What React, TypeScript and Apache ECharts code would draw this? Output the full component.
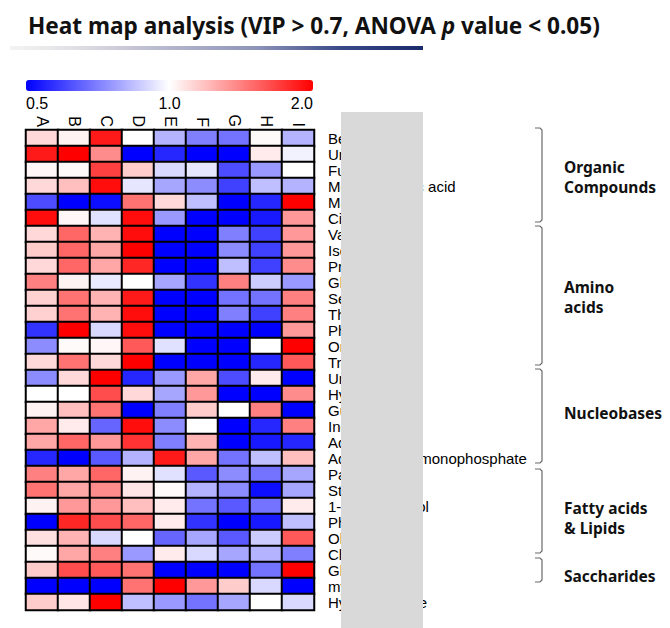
import React, { useEffect, useRef } from 'react';
import * as echarts from 'echarts';

// ---- data -----------------------------------------------------------------
const titleText = 'Heat map analysis (VIP > 0.7, ANOVA ';
const titleItalic = 'p';
const titleTail = ' value < 0.05)';

const columns = ['A', 'B', 'C', 'D', 'E', 'F', 'G', 'H', 'I'];

const metabolites = [
  'Benzoic acid', 'Urea', 'Fumaric acid', 'Methylmalonic acid', 'Malic acid', 'Citric acid',
  'Valine', 'Isoleucine', 'Proline', 'Glycine', 'Serine', 'Threonine', 'Phenylalanine', 'Ornithine', 'Tryptophan',
  'Uracil', 'Hypoxanthine', 'Guanine', 'Inosine', 'Adenosine', "Adenosine 5'-monophosphate",
  'Palmitic acid', 'Stearic acid', '1-Hexadecanol', 'Phosphate', 'Oleic acid', 'Cholesterol',
  'Glucose', 'myo-Inositol',
  'Hydroxylamine',
];

// log2 fold change (colour scale 0.5 .. 2.0), columns A..I
const organicValues = [
  [0.15, 0.05, 0.9, 0, -0.3, -0.5, -0.55, 0.02, -0.3],
  [0.9, 1.0, 0.45, -1, -0.85, -1, -1, 0.08, -0.05],
  [0.03, 0.02, 0.75, 0.2, -0.15, -0.1, -0.7, -0.4, 0],
  [0.15, 0.25, 0.95, -0.1, -0.35, -0.45, -0.75, -0.25, -0.3],
  [-0.7, -1, -0.95, 0.55, 0.15, -0.25, -1, -0.85, 1.0],
  [0.95, 0.03, -0.12, 0.95, -0.4, -1, -1, -0.9, 0.4],
];
const aminoValues = [
  [0.15, 0.6, 0.3, 0.95, -1, -1, -0.5, -0.75, 0.4],
  [0.2, 0.6, 0.35, 1.0, -1, -1, -0.45, -0.75, 0.4],
  [0.15, 0.6, 0.35, 0.85, -1, -1, -0.25, -0.75, 0.45],
  [0.5, 0.05, -0.08, 0, -0.35, -0.8, 0.5, -0.2, -0.4],
  [0.18, 0.55, 0.3, 0.9, -1, -1, -0.55, -0.55, 0.5],
  [0.18, 0.55, 0.3, 0.95, -1, -1, -0.5, -0.75, 0.5],
  [-0.8, 1.0, -0.15, 0.95, -1, -1, -1, -1, 0.4],
  [-0.45, 0.02, 0.03, 0.65, -0.12, -1, -1, 0, 1.0],
  [0.15, 0.55, 0.15, 1.0, -1, -1, -1, -0.85, 0.65],
];
const nucleoValues = [
  [-0.45, 0.15, 1.0, -0.85, -0.4, 0.35, -0.7, 0.08, -1],
  [0, 0, 0.7, 0.15, -0.35, 0.4, -1, -1, 0.45],
  [0.05, 0.25, 0.55, -1, -0.5, 0.2, 0, 0.5, -1],
  [0.35, 0.08, -0.6, 0.95, -0.45, 0, -1, -0.85, 0.5],
  [0.35, 0.6, 0.4, 0.8, -0.5, 0.3, -1, -0.9, -0.85],
  [-0.85, -1, -0.65, -0.3, 0.9, 0.35, -0.55, -0.25, 0.25],
];
const lipidValues = [
  [0.5, 0.35, 0.6, 0.05, -0.12, -0.65, -0.45, -0.55, -0.35],
  [0.55, 0.35, 0.45, 0.1, 0.02, -0.3, -0.45, -0.95, -0.35],
  [0.05, 0.4, 0.4, 0.25, 0.08, -0.55, -0.65, -0.55, 0.08],
  [-1, 0.85, 0.7, 0.6, 0.08, -0.8, -1, -0.9, -0.25],
  [0.12, 0.3, -0.15, 0, -0.6, -0.35, -0.65, -0.2, 0.65],
  [0.02, 0.35, 0.5, -0.4, 0.08, -0.15, -0.35, -0.3, -0.5],
];
const sugarValues = [
  [0.2, 0.7, 0.65, 0.55, -1, -1, -1, -0.55, 1.0],
  [-1, -1, -1, 0.55, 1.0, 0.4, 0.2, -0.15, -1],
];
const otherValues = [
  [0.2, 0.1, 1.0, -0.25, -0.4, -0.55, -0.35, 0, -0.15],
];

const colorbarTicks = [0.5, 1, 2];

const groupNames = ['Organic\nCompounds', 'Amino\nacids', 'Nucleobases', 'Fatty acids\n& Lipids', 'Saccharides'];

// ---- layout (pixels) ------------------------------------------------------
const bracketLayout = [
  { top: 128, bottom: 222, textY: 177 },
  { top: 226, bottom: 365, textY: 297 },
  { top: 369, bottom: 463, textY: 413 },
  { top: 469, bottom: 553, textY: 518 },
  { top: 558, bottom: 582, textY: 576 },
];

export default function App() {
  const ref = useRef<HTMLDivElement>(null);

  useEffect(() => {
    if (!ref.current) return;
    const chart = echarts.init(ref.current, undefined, { renderer: 'svg' });

    const allRows = [
      ...organicValues, ...aminoValues, ...nucleoValues,
      ...lipidValues, ...sugarValues, ...otherValues,
    ];
    const data: number[][] = [];
    allRows.forEach((row, yi) => {
      row.forEach((v, xi) => data.push([xi, yi, v]));
    });

    const bx = 542;
    const graphics: any[] = [
      {
        type: 'text', x: 28, y: 25, z: 100,
        style: {
          text: `{b|${titleText}}{i|${titleItalic}}{b|${titleTail}}`,
          verticalAlign: 'middle',
          rich: {
            b: { fontFamily: 'Noto Sans', fontWeight: 'bold', fontSize: 22.6, fill: '#111' },
            i: { fontFamily: 'Noto Sans', fontWeight: 'bold', fontStyle: 'italic', fontSize: 22.6, fill: '#111' },
          },
        },
      },
      {
        type: 'rect', z: 100,
        shape: { x: 10, y: 46, width: 413, height: 4 },
        style: {
          fill: new echarts.graphic.LinearGradient(0, 0, 1, 0, [
            { offset: 0, color: 'rgba(225,225,225,0.4)' },
            { offset: 0.3, color: '#c4c4d4' },
            { offset: 0.6, color: '#8c93b8' },
            { offset: 0.8, color: '#3a4a88' },
            { offset: 1, color: '#1b2a6a' },
          ]),
        },
      },
      {
        type: 'rect', z: 100,
        shape: { x: 341, y: 112, width: 82, height: 520 },
        style: { fill: '#d9d9d9' },
      },
    ];
    bracketLayout.forEach((b, i) => {
      graphics.push({
        type: 'polyline', z: 100,
        shape: {
          points: [
            [535, b.top], [540, b.top], [bx, b.top + 2],
            [bx, b.bottom - 2], [540, b.bottom], [535, b.bottom],
          ],
        },
        style: { stroke: '#6a6a6a', lineWidth: 1.2, fill: 'none' },
      });
      graphics.push({
        type: 'text', x: 564, y: b.textY, z: 100,
        style: {
          text: groupNames[i],
          verticalAlign: 'middle',
          fontFamily: 'Noto Sans', fontWeight: 'bold', fontSize: 15.5,
          lineHeight: 20, fill: '#111',
        },
      });
    });

    chart.setOption({
      animation: false,
      backgroundColor: '#ffffff',
      textStyle: { fontFamily: 'Liberation Sans, Arial, sans-serif' },
      grid: [
        { left: 26, top: 130, width: 288, height: 480 },
        { left: 26, top: 80, width: 287, height: 11 },
      ],
      xAxis: [
        {
          type: 'category', data: columns, gridIndex: 0, position: 'top',
          axisLine: { show: false }, axisTick: { show: false }, splitLine: { show: false },
          axisLabel: { rotate: 90, margin: 3, fontSize: 16, color: '#000', interval: 0 },
        },
        {
          type: 'log', logBase: 2, min: colorbarTicks[0], max: colorbarTicks[colorbarTicks.length - 1],
          gridIndex: 1, position: 'bottom', splitNumber: 2,
          axisLine: { show: false }, axisTick: { show: false }, splitLine: { show: false },
          axisLabel: {
            margin: 4, fontSize: 16, color: '#000',
            showMinLabel: true, showMaxLabel: true,
            alignMinLabel: 'left', alignMaxLabel: 'right',
            formatter: (v: number) => Number(v).toFixed(1),
          },
        },
      ],
      yAxis: [
        {
          type: 'category', data: metabolites, inverse: true, gridIndex: 0, position: 'right',
          axisLine: { show: false }, axisTick: { show: false }, splitLine: { show: false },
          axisLabel: { margin: 14, fontSize: 15, color: '#000', interval: 0 },
        },
        { type: 'value', gridIndex: 1, show: false },
      ],
      visualMap: {
        type: 'continuous', min: -1, max: 1, orient: 'horizontal',
        left: 26, top: 80, itemWidth: 11, itemHeight: 287, padding: 0,
        calculable: false, hoverLink: false, seriesIndex: 0,
        inRange: { color: ['#0000ff', '#ffffff', '#ff0000'] },
      },
      series: [
        {
          type: 'heatmap', xAxisIndex: 0, yAxisIndex: 0, data,
          itemStyle: { borderColor: '#000', borderWidth: 2 },
          emphasis: { disabled: true },
        },
      ],
      graphic: graphics,
    });

    return () => chart.dispose();
  }, []);

  return (
    <div
      ref={ref}
      style={{ position: 'absolute', left: 0, top: 0, width: 670, height: 628, background: '#fff' }}
    />
  );
}
